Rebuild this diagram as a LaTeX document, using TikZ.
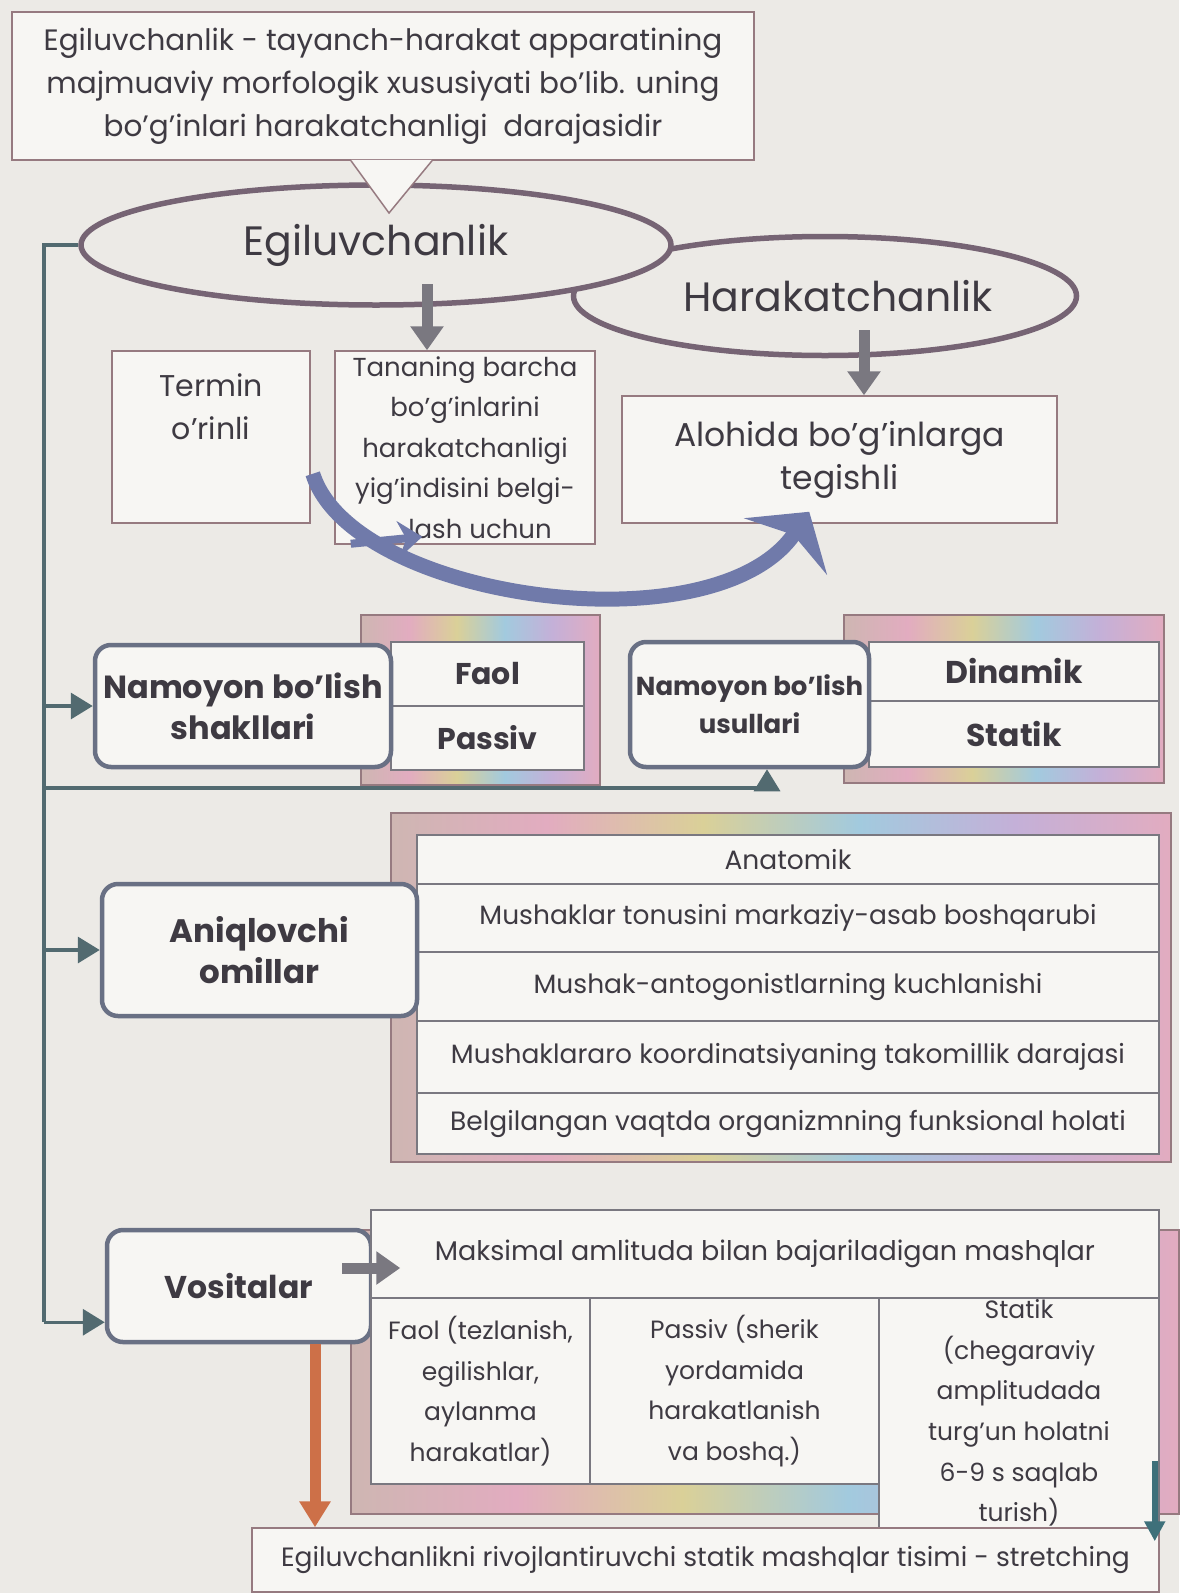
\documentclass[tikz,border=0pt]{standalone}
\usepackage{fontspec}
\setmainfont{Poppins}
\usetikzlibrary{arrows.meta,shapes.geometric,calc,positioning}

\definecolor{bgcol}{RGB}{236,234,230}
\definecolor{boxfill}{RGB}{247,246,243}
\definecolor{inkcol}{RGB}{62,58,66}
\definecolor{edgecol}{RGB}{150,122,128}
\definecolor{roundcol}{RGB}{105,112,132}
\definecolor{ringcol}{RGB}{118,100,116}
\definecolor{spinecol}{RGB}{82,106,112}
\definecolor{arrowgray}{RGB}{122,120,128}
\definecolor{curvecol}{RGB}{112,122,170}
\definecolor{dropcol}{RGB}{205,112,72}
\definecolor{tealcol}{RGB}{62,112,122}
\definecolor{rbA}{RGB}{226,172,192}
\definecolor{rbB}{RGB}{218,208,152}
\definecolor{rbC}{RGB}{162,202,222}
\definecolor{rbD}{RGB}{196,176,216}
\definecolor{rbE}{RGB}{206,182,178}

\pgfdeclarehorizontalshading{rainbow}{100bp}{color(0bp)=(rbE); color(25bp)=(rbE); color(35bp)=(rbA); color(45bp)=(rbB); color(55bp)=(rbC); color(65bp)=(rbD); color(75bp)=(rbA); color(100bp)=(rbA)}

\tikzset{
  textbox/.style={draw=edgecol, line width=1.5pt, fill=boxfill, text=inkcol, align=center, inner sep=0pt},
  cellbox/.style={textbox, draw=arrowgray},
  roundbox/.style={draw=roundcol, line width=4.5pt, rounded corners=16pt, fill=boxfill, text=inkcol, align=center, inner sep=0pt},
  ring/.style={ellipse, draw=ringcol, line width=5.5pt, fill=bgcol, text=inkcol, inner sep=0pt, font=\fontsize{41}{48}\selectfont},
  frame/.style={shading=rainbow, draw=edgecol, line width=1.5pt},
  blockarrow/.style={draw=arrowgray, line width=11pt, -{Triangle[length=24pt,width=32pt]}},
  spineline/.style={draw=spinecol, line width=3.5pt},
  spinearrow/.style={spineline, -{Triangle[length=22pt,width=26pt]}},
  bodytext/.style={font=\fontsize{26.5}{40.6}\selectfont},
  celltext/.style={font=\fontsize{25}{40.6}\selectfont},
  boldtext/.style={font=\bfseries\fontsize{30}{41}\selectfont}
}

\begin{document}
\begin{tikzpicture}[x=1pt, y=-1pt]

	\fill[bgcol] (0,0) rectangle (1179,1593);
	\useasboundingbox (0,0) rectangle (1179,1593);

	% Ellipses
	\node[ring, minimum width=503pt, minimum height=119pt] (harak) at (825,296) {\hspace*{26pt}Harakatchanlik};
	\node[ring, minimum width=590pt, minimum height=120pt] (egil) at (376,245) {Egiluvchanlik};

	% Definition
	\node[textbox, minimum width=742pt, minimum height=148pt, font=\fontsize{29.5}{43}\selectfont] (defn) at (383,86)
		{Egiluvchanlik - tayanch-harakat apparatining\\majmuaviy morfologik xususiyati bo'lib. uning\\bo'g'inlari harakatchanligi\ \ darajasidir};
	\coordinate (notchtip) at (389,213);
	\fill[boxfill] ($(defn.south)+(-32,-1)$) -- (notchtip) -- ($(defn.south)+(49,-1)$) -- cycle;
	\draw[edgecol, line width=1.5pt] ($(defn.south)+(-32,0)$) -- (notchtip) -- ($(defn.south)+(49,0)$);

	% Term boxes
	\node[textbox, minimum width=198pt, minimum height=172pt, font=\fontsize{30}{43}\selectfont] (termin) at (211,437) {Termin\\o'rinli\\[18pt]};
	\node[textbox, minimum width=260pt, minimum height=193pt, font=\fontsize{26}{40.6}\selectfont] (tanan) at (465,447.5)
		{Tananing barcha\\bo'g'inlarini\\harakatchanligi\\yig'indisini belgi-\\\hspace*{30pt}lash uchun};
	\node[textbox, minimum width=435pt, minimum height=127pt, font=\fontsize{33}{43}\selectfont] (alohida) at (839.5,459.5) {Alohida bo'g'inlarga\\tegishli};

	\coordinate (egilfoot) at (427,284);
	\coordinate (harakfoot) at (864,330);
	\draw[blockarrow] (egilfoot) -- (egilfoot |- tanan.north);
	\draw[blockarrow] (harakfoot) -- (harakfoot |- alohida.north);

	% Curved arrow
	\draw[curvecol, line width=15pt, -{Stealth[length=42pt,width=100pt,inset=14pt]}]
		($(termin.south east)+(2,-50)$) .. controls (352,600) and (715,650) .. ($(alohida.south west)+(188,-12)$);
	\draw[curvecol, line width=8pt, -{Stealth[length=24pt,width=36pt]}]
		($(termin.south east)+(40,20)$) -- ($(tanan.south west)+(88,-8)$);

	% Namoyon bo'lish shakllari
	\path[frame] (361,615) rectangle (600,785);
	\node[cellbox, minimum width=193pt, minimum height=64pt, boldtext] (faol) at (487.5,674) {Faol};
	\node[cellbox, minimum width=193pt, minimum height=64pt, boldtext] (passiv) at (487.5,738) {Passiv};
	\node[roundbox, minimum width=296pt, minimum height=122pt, font=\bfseries\fontsize{32}{41}\selectfont] (shakl) at (243,706) {Namoyon bo'lish\\shakllari};

	% Namoyon bo'lish usullari
	\path[frame] (844,615) rectangle (1164,783);
	\node[cellbox, minimum width=290pt, minimum height=59pt, font=\bfseries\fontsize{31.5}{40}\selectfont] (dinam) at (1014,671.5) {Dinamik};
	\node[cellbox, minimum width=290pt, minimum height=66pt, font=\bfseries\fontsize{31.5}{40}\selectfont] (stat) at (1014,734) {Statik};
	\node[roundbox, minimum width=239pt, minimum height=125pt, font=\bfseries\fontsize{26}{38}\selectfont] (usul) at (749.5,704.5) {Namoyon bo'lish\\usullari};

	% Aniqlovchi omillar
	\path[frame] (391,813) rectangle (1171,1162);
	\node[cellbox, minimum width=742pt, minimum height=49pt, bodytext] (anat) at (788,859.5) {Anatomik};
	\node[cellbox, minimum width=742pt, minimum height=68pt, bodytext] (tonus) at (788,918) {Mushaklar tonusini markaziy-asab boshqarubi};
	\node[cellbox, minimum width=742pt, minimum height=69pt, bodytext] (antag) at (788,986.5) {Mushak-antogonistlarning kuchlanishi};
	\node[cellbox, minimum width=742pt, minimum height=72pt, bodytext] (koord) at (788,1057) {Mushaklararo koordinatsiyaning takomillik darajasi};
	\node[cellbox, minimum width=742pt, minimum height=61pt, bodytext] (holat) at (788,1123.5) {Belgilangan vaqtda organizmning funksional holati};
	\node[roundbox, minimum width=315pt, minimum height=132pt, font=\bfseries\fontsize{32.5}{41}\selectfont] (aniq) at (259.5,950) {Aniqlovchi\\omillar};

	% Vositalar
	\path[frame] (351,1230) rectangle (1179,1514);
	\node[roundbox, minimum width=264pt, minimum height=112pt, font=\bfseries\fontsize{31.5}{40}\selectfont] (vosita) at (239,1286) {Vositalar};
	\node[cellbox, minimum width=788pt, minimum height=88pt, font=\fontsize{27}{40}\selectfont] (maks) at (765,1254) {Maksimal amlituda bilan bajariladigan mashqlar};
	\node[cellbox, minimum width=219pt, minimum height=186pt, celltext] (vfaol) at (480.5,1391) {Faol (tezlanish,\\egilishlar,\\aylanma\\harakatlar)};
	\node[cellbox, minimum width=289pt, minimum height=186pt, celltext] (vpassiv) at (734.5,1391) {Passiv (sherik\\yordamida\\harakatlanish\\va boshq.)};
	\node[cellbox, minimum width=280pt, minimum height=230pt, celltext] (vstatik) at (1019,1413) {Statik\\(chegaraviy\\amplitudada\\turg'un holatni\\6-9 s saqlab\\turish)};
	\node[textbox, minimum width=907pt, minimum height=64pt, font=\fontsize{26.5}{40}\selectfont] (bottom) at (705.5,1560) {Egiluvchanlikni rivojlantiruvchi statik mashqlar tisimi - stretching};

	\draw[blockarrow] ($(vosita.east)+(-31,-18)$) -- ($(maks.west)+(30,14)$);
	\coordinate (vdrop) at ($(vosita.south)+(76,0)$);
	\draw[draw=dropcol, line width=11pt, -{Triangle[length=26pt,width=30pt]}] (vdrop) -- (vdrop |- bottom.north);
	\coordinate (sdrop) at ($(vstatik.south east)+(-5,-68)$);
	\coordinate (stip) at ($(bottom.north east)+(-5,14)$);
	\draw[draw=tealcol, line width=6pt, -{Triangle[length=20pt,width=20pt]}] (sdrop) -- (stip);

	% Spine
	\coordinate (spine) at (44,0);
	\coordinate (usulturn) at (767,788);
	\coordinate (vturn) at ($(vosita.south west)+(0,-22)$);
	\draw[spineline] (egil.west) -- (egil.west -| spine) -- (spine |- vturn);
	\draw[spinearrow] (spine |- shakl.west) -- (shakl.west);
	\draw[spinearrow] (spine |- aniq.west) -- (aniq.west);
	\draw[spinearrow] (spine |- usulturn) -- (usulturn) -- (usulturn |- usul.south);
	\draw[spinearrow] (spine |- vturn) -- (vturn);

\end{tikzpicture}
\end{document}
